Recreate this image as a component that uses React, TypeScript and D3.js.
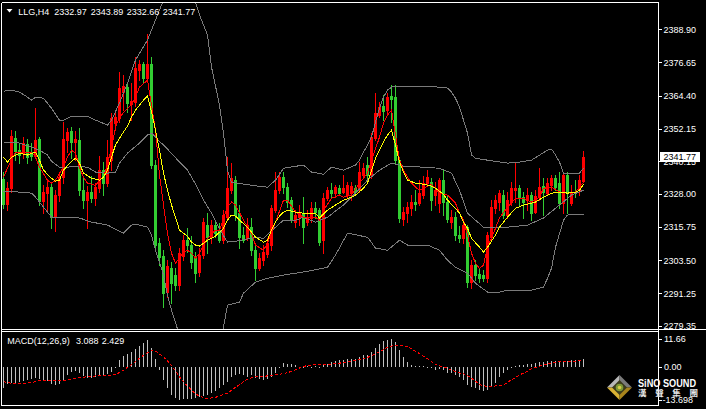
import React from 'react';
import * as d3 from 'd3';

// ---- Candles (LLG, H4) : open / high / low / close ----
const opens = [2333.5,2324.2,2330.1,2348.6,2344.2,2343.1,2346.4,2343.5,2342.0,2348.3,2325.3,2328.3,2330.5,2319.8,2327.6,2334.2,2347.9,2351.2,2347.2,2347.9,2329.4,2325.7,2328.7,2326.4,2330.1,2336.8,2332.0,2340.5,2354.2,2356.0,2365.7,2367.5,2361.2,2362.0,2373.8,2376.0,2370.8,2376.0,2338.7,2309.8,2305.0,2291.7,2300.5,2298.0,2294.3,2305.0,2310.9,2309.1,2304.3,2299.1,2305.4,2316.5,2312.0,2316.5,2314.6,2310.9,2319.4,2329.4,2333.1,2320.9,2312.8,2311.6,2315.7,2307.2,2300.5,2303.5,2305.7,2309.1,2322.0,2329.4,2334.2,2330.5,2325.7,2317.6,2319.4,2320.9,2317.6,2319.1,2322.7,2322.0,2310.9,2326.4,2329.4,2328.3,2330.1,2328.7,2327.6,2328.3,2330.1,2329.4,2335.0,2338.7,2335.0,2348.6,2357.2,2360.5,2359.0,2364.2,2363.8,2340.5,2318.7,2320.9,2322.7,2325.0,2324.6,2327.6,2332.0,2332.4,2327.6,2324.6,2333.1,2325.0,2317.6,2319.4,2312.8,2311.6,2315.7,2295.4,2301.7,2298.3,2298.0,2296.8,2312.0,2322.7,2325.0,2327.6,2320.2,2325.0,2329.4,2330.1,2326.8,2325.7,2327.6,2321.3,2326.8,2330.9,2328.3,2331.2,2333.8,2332.0,2324.6,2335.0,2324.6,2328.7,2329.4,2332.97];
const highs = [2336.1,2332.4,2351.6,2351.2,2346.4,2349.0,2348.3,2346.8,2359.7,2349.0,2331.2,2332.7,2332.0,2329.4,2336.1,2354.6,2352.3,2352.7,2351.2,2352.3,2333.8,2330.9,2334.6,2332.0,2342.0,2339.8,2347.9,2357.9,2359.0,2373.1,2371.9,2369.0,2369.0,2378.6,2377.5,2376.8,2387.1,2378.6,2340.5,2311.6,2307.2,2303.5,2302.8,2300.5,2308.0,2312.8,2315.3,2312.4,2306.5,2308.0,2319.1,2320.9,2318.3,2318.3,2317.2,2322.0,2341.6,2339.4,2334.6,2323.9,2315.7,2319.1,2319.1,2309.1,2306.1,2309.1,2311.6,2323.9,2336.1,2336.1,2336.1,2332.0,2326.8,2322.0,2323.9,2326.8,2322.0,2325.0,2325.0,2322.7,2328.3,2330.5,2332.0,2331.2,2331.2,2335.0,2332.4,2332.4,2331.2,2339.8,2339.4,2341.6,2350.5,2365.3,2362.0,2364.5,2365.3,2368.2,2368.2,2341.2,2323.1,2325.0,2327.6,2329.4,2333.1,2334.6,2336.8,2333.8,2332.4,2333.8,2336.8,2327.6,2322.0,2321.3,2316.1,2317.6,2316.5,2303.5,2303.5,2300.5,2299.8,2313.9,2325.7,2327.6,2329.4,2329.4,2328.7,2332.4,2339.4,2331.2,2328.7,2330.1,2328.7,2329.4,2337.5,2333.8,2333.8,2335.0,2335.0,2336.1,2336.1,2336.1,2331.2,2333.1,2335.0,2343.89];
const lows = [2322.7,2322.0,2328.7,2340.5,2339.4,2341.2,2339.4,2340.5,2341.2,2323.9,2320.9,2321.3,2315.3,2314.2,2325.3,2332.0,2343.5,2341.2,2340.5,2327.6,2322.7,2315.3,2325.0,2323.9,2328.7,2327.6,2330.9,2336.8,2351.6,2354.6,2359.0,2358.3,2355.3,2360.5,2370.1,2369.4,2370.1,2337.5,2307.2,2301.7,2286.1,2289.8,2287.6,2292.4,2292.4,2303.5,2306.5,2300.5,2295.4,2297.6,2304.3,2306.1,2309.8,2312.0,2310.2,2309.8,2318.3,2328.3,2318.3,2308.0,2310.2,2310.9,2305.4,2296.1,2299.8,2301.7,2304.6,2307.2,2321.3,2328.3,2328.3,2323.1,2317.6,2315.7,2316.5,2309.8,2316.5,2317.6,2319.1,2309.1,2306.1,2325.7,2326.8,2326.8,2327.6,2328.3,2326.8,2325.7,2328.3,2328.7,2334.2,2333.1,2333.8,2347.9,2356.4,2355.3,2357.9,2354.6,2339.4,2317.6,2316.5,2317.6,2320.2,2322.0,2323.9,2326.4,2330.9,2322.0,2323.9,2321.3,2320.2,2317.6,2315.3,2310.9,2310.2,2309.8,2293.5,2293.1,2296.1,2295.4,2295.7,2295.4,2310.9,2320.9,2322.0,2319.1,2319.1,2323.9,2325.0,2323.9,2319.1,2322.0,2318.3,2320.9,2325.7,2320.2,2327.6,2329.4,2329.4,2322.7,2320.9,2320.9,2323.9,2326.8,2327.6,2332.66];
const closes = [2324.2,2330.1,2349.4,2343.8,2342.4,2346.8,2341.6,2342.0,2347.9,2325.3,2328.7,2330.5,2319.4,2327.6,2334.2,2348.3,2350.9,2347.2,2348.3,2329.4,2325.7,2328.7,2326.4,2330.5,2336.8,2332.0,2341.6,2356.0,2356.4,2367.1,2367.9,2361.6,2362.3,2374.5,2376.0,2370.8,2376.0,2338.7,2309.1,2304.6,2291.3,2301.3,2295.0,2294.3,2306.1,2310.9,2309.1,2302.8,2298.7,2305.4,2317.6,2312.0,2316.5,2313.5,2310.9,2320.2,2330.1,2333.8,2320.2,2312.0,2310.9,2316.5,2307.2,2300.5,2304.3,2306.5,2309.8,2322.7,2329.4,2334.2,2330.5,2325.0,2318.3,2320.2,2321.3,2315.7,2319.4,2322.7,2321.3,2310.2,2326.4,2329.4,2328.3,2330.5,2328.3,2330.1,2331.2,2330.9,2328.7,2336.1,2337.5,2335.0,2349.0,2357.9,2360.1,2358.6,2363.8,2363.1,2340.5,2319.1,2321.3,2323.1,2325.0,2324.2,2328.3,2332.0,2334.2,2325.7,2329.4,2333.1,2325.0,2318.7,2319.4,2312.8,2311.6,2316.5,2295.4,2301.7,2298.0,2296.8,2296.8,2312.8,2323.1,2325.7,2328.3,2320.2,2325.7,2330.1,2330.1,2326.4,2325.0,2327.6,2320.9,2327.2,2330.5,2328.7,2332.0,2333.8,2330.5,2324.6,2335.0,2328.3,2328.7,2328.3,2333.1,2341.77];

// ---- Indicator lines: [candle index, value] ----
const bbUpper = [[0,2366.0],[2,2366.4],[4,2365.7],[6,2363.8],[7,2362.7],[8,2363.8],[10,2363.4],[12,2359.7],[14,2355.3],[15,2355.3],[17,2356.8],[21,2356.8],[23,2355.3],[26,2353.5],[27,2355.3],[29,2361.6],[31,2369.0],[33,2377.5],[36,2384.9],[38,2392.3],[40,2399.7],[42,2402.7],[44,2404.1],[46,2402.7],[48,2399.0],[49,2394.2],[51,2386.8],[52,2374.9],[54,2360.9],[55,2350.5],[56,2336.8],[57,2332.4],[62,2331.2],[66,2330.5],[68,2333.1],[70,2337.5],[75,2338.7],[77,2336.1],[80,2335.3],[82,2337.9],[85,2336.8],[88,2338.7],[89,2340.5],[90,2343.5],[91,2346.1],[92,2349.0],[93,2354.6],[94,2359.7],[95,2363.8],[96,2366.4],[97,2367.5],[98,2367.9],[110,2367.5],[111,2367.1],[112,2365.7],[113,2363.4],[114,2360.1],[115,2355.3],[116,2350.5],[117,2342.4],[118,2341.2],[121,2340.5],[126,2339.4],[129,2339.8],[132,2340.5],[136,2344.2],[137,2344.6],[138,2342.4],[139,2339.8],[140,2335.7],[144,2335.7],[145,2337.5]];
const bbMiddle = [[0,2347.2],[2,2347.2],[4,2346.8],[7,2345.3],[9,2344.2],[11,2342.4],[12,2340.1],[14,2337.9],[16,2337.9],[18,2338.3],[21,2337.9],[23,2336.1],[26,2335.7],[28,2336.1],[29,2339.4],[31,2343.1],[34,2346.8],[36,2349.8],[37,2350.5],[39,2347.5],[41,2344.6],[44,2339.8],[46,2336.8],[48,2331.6],[50,2325.7],[52,2320.9],[54,2315.0],[56,2310.2],[58,2310.5],[63,2312.0],[65,2311.6],[68,2315.7],[70,2318.3],[73,2318.3],[75,2319.4],[78,2317.6],[81,2319.4],[85,2323.9],[88,2328.3],[91,2333.1],[94,2336.8],[97,2339.4],[100,2338.3],[105,2337.9],[109,2337.5],[112,2335.7],[114,2329.4],[116,2320.9],[120,2315.7],[126,2315.7],[131,2316.5],[135,2319.1],[139,2323.9],[142,2327.6],[145,2329.4]];
const bbLower = [[0,2329.0],[4,2328.7],[7,2328.3],[8,2326.8],[11,2321.3],[12,2319.4],[16,2319.4],[19,2319.1],[22,2317.6],[26,2316.5],[30,2313.5],[32,2316.5],[33,2316.8],[36,2315.7],[37,2312.8],[38,2307.2],[39,2302.8],[40,2298.0],[41,2290.6],[42,2285.0],[43,2280.6],[44,2275.4],[46,2270.2],[48,2265.8],[50,2266.5],[52,2268.4],[54,2272.1],[55,2278.7],[56,2286.9],[59,2288.0],[60,2291.3],[63,2295.4],[66,2296.8],[70,2298.0],[76,2299.4],[81,2300.9],[83,2305.4],[86,2313.5],[91,2312.0],[93,2308.0],[96,2307.2],[99,2310.9],[101,2309.1],[106,2309.1],[109,2307.2],[111,2303.5],[113,2300.9],[116,2298.7],[118,2295.0],[121,2291.7],[124,2291.7],[126,2292.4],[132,2292.4],[135,2293.5],[136,2296.8],[137,2300.5],[138,2308.3],[140,2318.3],[141,2320.2],[145,2320.5]];
const maSlow = [[0,2341.6],[1,2339.8],[2,2341.6],[4,2343.1],[6,2342.4],[8,2343.5],[9,2340.5],[10,2336.8],[12,2333.8],[13,2332.7],[14,2333.1],[15,2336.8],[17,2340.1],[18,2341.2],[19,2339.4],[20,2335.7],[22,2333.8],[24,2333.1],[25,2334.2],[26,2336.8],[27,2341.6],[28,2346.1],[29,2348.6],[30,2350.9],[31,2353.1],[32,2356.4],[33,2359.0],[35,2362.7],[36,2364.2],[37,2358.3],[38,2351.6],[39,2344.2],[40,2335.7],[41,2329.4],[42,2323.9],[43,2319.4],[44,2314.6],[45,2313.5],[46,2312.4],[47,2310.2],[48,2309.1],[49,2308.7],[51,2310.9],[53,2312.4],[55,2315.3],[56,2318.3],[57,2320.2],[58,2319.8],[59,2318.3],[61,2315.7],[62,2313.9],[63,2312.0],[65,2310.2],[66,2310.9],[67,2314.6],[68,2317.6],[69,2319.8],[70,2321.3],[71,2322.0],[73,2321.3],[75,2320.9],[78,2320.9],[79,2319.1],[80,2320.5],[81,2322.0],[83,2323.9],[85,2325.7],[87,2326.8],[88,2327.6],[90,2330.1],[91,2332.0],[92,2336.8],[93,2341.2],[94,2344.2],[95,2347.2],[96,2349.8],[97,2351.6],[98,2346.1],[99,2339.8],[100,2336.1],[101,2333.1],[103,2332.0],[105,2331.6],[107,2330.9],[108,2330.1],[110,2327.9],[111,2325.7],[113,2322.7],[114,2320.9],[115,2317.6],[116,2315.3],[117,2311.6],[119,2308.3],[120,2306.5],[121,2308.3],[123,2312.8],[124,2315.7],[125,2317.6],[126,2319.4],[128,2322.7],[130,2323.9],[131,2324.2],[133,2325.0],[135,2326.8],[137,2328.3],[139,2328.7],[141,2328.3],[143,2328.7],[144,2329.4],[145,2331.6]];
const maFast = [[0,2334.2],[1,2337.5],[2,2340.5],[3,2343.5],[5,2343.5],[7,2343.5],[8,2341.6],[9,2337.9],[11,2333.1],[12,2332.0],[13,2333.1],[15,2337.9],[16,2341.6],[17,2344.2],[18,2343.1],[19,2337.9],[20,2334.2],[21,2332.0],[23,2331.2],[24,2333.1],[25,2334.2],[26,2338.7],[27,2345.3],[28,2352.7],[29,2356.4],[31,2359.7],[32,2360.9],[33,2363.8],[34,2367.5],[36,2370.1],[37,2360.9],[38,2351.6],[39,2335.0],[40,2323.9],[41,2313.5],[42,2306.1],[43,2302.4],[44,2304.3],[45,2306.5],[46,2307.2],[47,2306.1],[48,2304.3],[49,2306.1],[51,2311.6],[53,2314.6],[54,2314.6],[56,2323.1],[57,2325.0],[58,2323.9],[60,2318.3],[62,2313.5],[63,2309.1],[65,2307.2],[66,2309.8],[68,2317.6],[70,2325.7],[71,2325.7],[73,2321.3],[75,2319.4],[76,2319.1],[78,2319.4],[79,2318.3],[80,2322.0],[82,2326.4],[84,2327.6],[85,2326.8],[87,2327.6],[89,2332.0],[91,2335.7],[92,2340.5],[94,2349.0],[95,2354.2],[96,2357.2],[97,2359.0],[98,2349.8],[99,2340.5],[100,2336.8],[101,2334.2],[102,2332.0],[103,2330.5],[104,2329.4],[105,2330.1],[107,2331.6],[108,2330.1],[109,2328.3],[111,2327.6],[113,2324.6],[114,2320.9],[115,2318.3],[116,2312.8],[117,2306.1],[118,2302.4],[119,2300.5],[120,2301.7],[121,2308.3],[123,2315.3],[124,2319.1],[126,2323.1],[128,2326.4],[130,2326.4],[132,2325.0],[134,2326.8],[135,2330.1],[137,2330.5],[139,2328.7],[141,2328.3],[143,2328.7],[144,2330.5],[145,2332.4]];

// ---- MACD(12,26,9) ----
const macdMain = [-8.8,-7.3,-7.0,-6.7,-6.3,-5.9,-5.6,-5.1,-4.9,-5.3,-5.6,-5.9,-7.3,-7.7,-7.3,-5.6,-3.5,-2.4,-1.9,-2.8,-3.9,-4.9,-4.9,-4.5,-3.9,-3.5,-3.1,-2.1,-0.3,2.7,4.4,5.2,6.2,7.4,8.5,9.6,10.9,7.8,3.0,-1.5,-5.6,-9.0,-11.8,-13.2,-13.698,-13.6,-13.5,-13.3,-13.0,-12.8,-12.3,-11.7,-10.9,-10.0,-9.0,-7.8,-6.3,-4.5,-3.5,-3.0,-3.5,-4.2,-3.5,-4.9,-5.3,-5.6,-5.3,-4.3,-2.6,-0.5,1.3,1.2,1.0,0.6,-0.2,-0.3,0.1,-0.2,0.1,-0.3,0.6,1.0,2.0,2.3,2.7,2.7,3.0,3.0,3.3,4.1,4.6,4.9,6.2,7.9,9.4,10.6,11.2,11.66,10.2,6.8,4.1,2.0,0.8,0.2,0.1,0.1,-0.1,-0.7,-1.4,-1.2,-1.4,-2.5,-2.8,-3.5,-4.2,-5.6,-7.6,-8.4,-9.1,-9.8,-10.3,-9.8,-8.4,-7.0,-4.2,-2.8,-1.4,-0.4,0.3,0.6,0.8,1.0,1.2,1.5,1.8,2.0,2.1,2.2,2.3,2.3,2.4,2.5,2.6,2.6,2.7,3.088];
const macdSignal = [[0,-6.3],[2,-7.0],[4,-7.0],[7,-6.7],[9,-5.9],[12,-5.6],[14,-5.9],[16,-5.6],[18,-4.9],[21,-4.2],[23,-3.9],[26,-3.8],[28,-3.3],[29,-2.5],[30,-1.5],[32,0.8],[34,3.5],[36,5.8],[37,6.6],[38,6.4],[40,4.1],[42,0.5],[43,-1.8],[44,-4.3],[46,-8.2],[48,-11.3],[49,-12.4],[51,-13.3],[53,-12.8],[56,-11.1],[57,-9.8],[59,-7.5],[61,-5.2],[63,-4.3],[66,-3.9],[68,-3.5],[71,-2.6],[73,-1.3],[75,0.1],[77,0.6],[79,0.9],[82,1.0],[84,1.4],[86,2.0],[88,2.6],[91,3.8],[93,5.2],[96,8.0],[98,8.9],[101,8.4],[103,6.4],[106,3.3],[108,0.8],[111,-0.7],[113,-2.2],[115,-3.0],[116,-3.8],[118,-6.0],[119,-7.5],[120,-8.0],[122,-8.4],[123,-8.0],[125,-7.6],[127,-5.5],[128,-4.7],[129,-3.5],[131,-2.0],[132,-0.8],[134,0.1],[136,1.2],[138,1.8],[140,2.1],[142,2.2],[144,2.38],[145,2.429]];

// ---- Axis labels ----
const priceTicks = [2388.90, 2376.65, 2364.40, 2352.15, 2340.15, 2328.00, 2315.75, 2303.50, 2291.25, 2279.35];
const macdTicks = [11.66, 0.0, -13.698];
const macdTickLabels = ['11.66', '0.00', '-13.698'];

const UP = '#ff0000';
const DOWN = '#32cd32';
const FONT = "'Liberation Sans', Arial, sans-serif";

export default function App() {
  const L = 1.5, R = 658.5, T = 2.5, MB = 329.5, MT = 331.5, B = 405.5;
  const n = closes.length;
  const x = d3.scaleLinear().domain([0, n - 1]).range([3.5, 583.5]);
  const y = d3.scaleLinear().domain([2279.35, 2388.9]).range([325.5, 29.3]);
  const ym = d3.scaleLinear().domain([-13.698, 11.66]).range([399.5, 338.5]);

  const priceLine = d3.line<number[]>().x(d => x(d[0])).y(d => y(d[1]));
  const macdLine = d3.line<number[]>().x(d => x(d[0])).y(d => ym(d[1]));

  const last = n - 1;
  const lastY = y(closes[last]);

  return (
    <div style={{ position: 'fixed', left: 0, top: 0, width: 706, height: 409, background: '#000' }}>
      <svg width={706} height={409} style={{ display: 'block' }} fontFamily={FONT}>
        <defs>
          <clipPath id="mainClip"><rect x={2} y={3} width={656} height={326} /></clipPath>
          <clipPath id="macdClip"><rect x={2} y={332} width={656} height={73} /></clipPath>
        </defs>
        <rect x={0} y={0} width={706} height={409} fill="#000" />

        {/* candles */}
        <g clipPath="url(#mainClip)" shapeRendering="crispEdges">
          {closes.map((c, i) => {
            const o = opens[i];
            const col = c >= o ? UP : DOWN;
            const cx = x(i);
            const yt = Math.round(y(Math.max(o, c)));
            const yb = Math.round(y(Math.min(o, c)));
            const yh = Math.round(y(highs[i]));
            const yl = Math.round(y(lows[i]));
            return (
              <g key={i}>
                <rect x={cx - 0.5} y={yh} width={1} height={Math.max(1, yl - yh + 1)} fill={col} />
                <rect x={cx - 1.5} y={yt} width={3} height={Math.max(1, yb - yt + 1)} fill={col} />
              </g>
            );
          })}
        </g>

        {/* indicator lines */}
        <g clipPath="url(#mainClip)" fill="none" shapeRendering="crispEdges">
          <path d={priceLine(bbUpper) || ''} stroke="#7a7a7a" strokeWidth={1} />
          <path d={priceLine(bbMiddle) || ''} stroke="#7a7a7a" strokeWidth={1} />
          <path d={priceLine(bbLower) || ''} stroke="#7a7a7a" strokeWidth={1} />
          <path d={priceLine(maFast) || ''} stroke="#ff0000" strokeWidth={1} />
          <path d={priceLine(maSlow) || ''} stroke="#ffff00" strokeWidth={1} />
        </g>

        {/* MACD */}
        <g clipPath="url(#macdClip)" shapeRendering="crispEdges">
          {macdMain.map((v, i) => {
            const y0 = ym(0);
            const y1 = ym(v);
            return <rect key={i} x={x(i) - 0.5} y={Math.min(y0, y1)} width={1} height={Math.max(1, Math.abs(y1 - y0))} fill="#c0c0c0" />;
          })}
          <path d={macdLine(macdSignal) || ''} fill="none" stroke="#ff0000" strokeWidth={1} strokeDasharray="3,2" />
        </g>

        {/* frames */}
        <g stroke="#ffffff" strokeWidth={1} shapeRendering="crispEdges" fill="none">
          <line x1={L} y1={T} x2={R} y2={T} />
          <line x1={L} y1={T} x2={L} y2={B} />
          <line x1={R} y1={T} x2={R} y2={B} />
          <line x1={L} y1={MB} x2={706} y2={MB} />
          <line x1={L} y1={MT} x2={R} y2={MT} />
          <line x1={L} y1={B} x2={R} y2={B} />
        </g>

        {/* price axis */}
        <g fontSize={9} fill="#ffffff">
          {priceTicks.map((p, i) => (
            <g key={i}>
              <line x1={R} x2={R + 3.5} y1={Math.round(y(p)) + 0.5} y2={Math.round(y(p)) + 0.5} stroke="#fff" shapeRendering="crispEdges" />
              <text x={663.5} y={y(p) + 3.4}>{p.toFixed(2)}</text>
            </g>
          ))}
        </g>
        {/* current price marker */}
        <rect x={659.5} y={Math.round(lastY) - 5} width={40.5} height={10} fill="#ffffff" shapeRendering="crispEdges" />
        <text x={663.5} y={lastY + 3.4} fontSize={9} fill="#000">{closes[last].toFixed(2)}</text>

        {/* MACD axis */}
        <g fontSize={9} fill="#ffffff">
          {macdTicks.map((v, i) => (
            <g key={i}>
              <line x1={R} x2={R + 3.5} y1={Math.round(ym(v)) + 0.5} y2={Math.round(ym(v)) + 0.5} stroke="#fff" shapeRendering="crispEdges" />
              <text x={i === 2 ? 662.5 : 664} y={ym(v) + 3.6}>{macdTickLabels[i]}</text>
            </g>
          ))}
        </g>

        {/* header */}
        <polygon points="6.5,9 12.5,9 9.5,12.5" fill="#ffffff" />
        <g fontSize={9} fill="#ffffff">
          <text x={18.3} y={14.5}>LLG,H4</text>
          <text x={54.3} y={14.5}>{opens[last].toFixed(2)}</text>
          <text x={90.7} y={14.5}>{highs[last].toFixed(2)}</text>
          <text x={126.7} y={14.5}>{lows[last].toFixed(2)}</text>
          <text x={162.7} y={14.5}>{closes[last].toFixed(2)}</text>
          <text x={7.3} y={343.5}>MACD(12,26,9)</text>
          <text x={76} y={343.5}>{macdMain[last].toFixed(3)}</text>
          <text x={101.7} y={343.5}>{macdSignal[macdSignal.length - 1][1].toFixed(3)}</text>
        </g>

        {/* logo */}
        <g>
          <polygon points="619.5,375 607,387.5 619.5,387.5" fill="#b8b8b8" />
          <polygon points="619.5,375 632,387.5 619.5,387.5" fill="#7a7a7a" />
          <polygon points="607,387.5 619.5,400 619.5,387.5" fill="#d9b234" />
          <polygon points="632,387.5 619.5,400 619.5,387.5" fill="#a8841c" />
          <polygon points="619.5,380 627,387.5 619.5,395 612,387.5" fill="#3c3c1c" />
          <circle cx={619.5} cy={387.5} r={3.8} fill="#7e9a34" />
          <circle cx={619.5} cy={387.5} r={1.8} fill="#d8cc48" />
        </g>
        <text x={638} y={386.5} fontSize={10} fontWeight="bold" fill="#ffffff" textLength={58} lengthAdjust="spacingAndGlyphs">SiNO SOUND</text>
        <text x={638} y={396} fontSize={8.5} fontWeight="bold" fill="#e8e8e8" fontFamily="'Noto Sans CJK TC', 'Noto Sans CJK SC', sans-serif" textLength={60} lengthAdjust="spacing">漢聲集團</text>
      </svg>
    </div>
  );
}
